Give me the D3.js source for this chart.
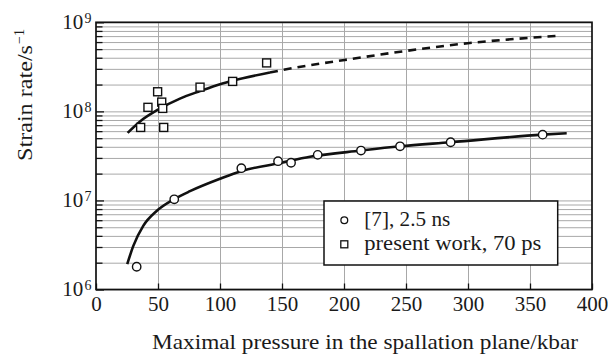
<!DOCTYPE html>
<html>
<head>
<meta charset="utf-8">
<script src="https://cdn.jsdelivr.net/npm/d3@7/dist/d3.min.js"></script>
<style>
  html, body { margin: 0; padding: 0; background: #fff; }
  svg { display: block; }
  text { font-family: "Liberation Serif", "Times New Roman", serif; fill: #1a1a1a; }
</style>
</head>
<body>
<svg id="chart" width="608" height="354"></svg>
<script>
// ---- data ----
const xTicks = [0, 50, 100, 150, 200, 250, 300, 350, 400];
const yDecades = [1e6, 1e7, 1e8, 1e9];
const yExponents = ["6", "7", "8", "9"];

// [7], 2.5 ns  (circles)
const refPressure = [32.8, 63.1, 117.2, 146.8, 157.3, 178.8, 213.7, 245.2, 286.0, 360.2];
const refRate     = [1.8e6, 1.03e7, 2.3e7, 2.76e7, 2.65e7, 3.25e7, 3.63e7, 4.05e7, 4.5e7, 5.48e7];

// present work, 70 ps (squares)
const presentPressure = [36.0, 41.9, 49.7, 53.0, 53.8, 54.6, 83.9, 110.2, 137.6];
const presentRate     = [6.6e7, 1.11e8, 1.66e8, 1.27e8, 1.08e8, 6.6e7, 1.87e8, 2.17e8, 3.5e8];

// fitted curve through [7] data (solid)
const refCurveP    = [25.2, 30.1, 38.1, 48.9, 62.9, 75.8, 100, 117.5, 148.4, 172.6, 213.7, 245, 286, 360, 379.6];
const refCurveRate = [1.93e6, 3.09e6, 5.18e6, 7.6e6, 1.03e7, 1.27e7, 1.75e7, 2.14e7, 2.63e7, 3.09e7, 3.63e7, 4.05e7, 4.5e7, 5.48e7, 5.68e7];

// fitted curve through present data (solid part)
const presCurveP    = [25.5, 36, 50, 67.7, 83.9, 100, 110.2, 140.3];
const presCurveRate = [5.73e7, 7.8e7, 1.045e8, 1.39e8, 1.69e8, 2.02e8, 2.21e8, 2.73e8];

// extrapolation (dashed part)
const extCurveP    = [140.3, 150.6, 200.6, 250.6, 299.8, 350, 374.2];
const extCurveRate = [2.73e8, 2.92e8, 3.78e8, 4.78e8, 5.82e8, 6.7e8, 7.08e8];

const legendLabels = ["[7], 2.5 ns", "present work, 70 ps"];
const xTitle = "Maximal pressure in the spallation plane/kbar";
const yTitleMain = "Strain rate/s";
const yTitleSup = "\u22121";

// ---- layout ----
const svg = d3.select("#chart");
const L = 96, R = 592, T = 22.3, B = 289.5;
const x = d3.scaleLinear().domain([0, 400]).range([L, R]);
const y = d3.scaleLog().domain([1e6, 1e9]).range([B, T]);

const gridColor = "#a8a8a8";

// minor/major tick values for log axis
const minorVals = [];
for (let e = 6; e < 9; e++) for (let m = 2; m <= 9; m++) minorVals.push(m * Math.pow(10, e));

// horizontal grid lines (via axis)
const hGrid = svg.append("g").attr("transform", `translate(${L},0)`)
  .call(d3.axisRight(y).tickValues(minorVals.concat(yDecades)).tickSize(R - L).tickFormat(""));
hGrid.select(".domain").remove();
hGrid.selectAll("line").attr("stroke", gridColor).attr("stroke-width", 1);

// vertical grid lines
const vGrid = svg.append("g").attr("transform", `translate(0,${B})`)
  .call(d3.axisTop(x).tickValues(xTicks.slice(1, -1)).tickSize(B - T).tickFormat(""));
vGrid.select(".domain").remove();
vGrid.selectAll("line").attr("stroke", gridColor).attr("stroke-width", 1);

// left ticks (black, inside)
const yMinorAx = svg.append("g").attr("transform", `translate(${L},0)`)
  .call(d3.axisRight(y).tickValues(minorVals).tickSize(6.5).tickFormat(""));
yMinorAx.select(".domain").remove();
yMinorAx.selectAll("line").attr("stroke", "#111").attr("stroke-width", 1.3);
const yMajorAx = svg.append("g").attr("transform", `translate(${L},0)`)
  .call(d3.axisRight(y).tickValues(yDecades).tickSize(8).tickFormat(""));
yMajorAx.select(".domain").remove();
yMajorAx.selectAll("line").attr("stroke", "#111").attr("stroke-width", 1.3);

// bottom ticks + labels
const xAx = svg.append("g").attr("transform", `translate(0,${B})`)
  .call(d3.axisBottom(x).tickValues(xTicks).tickSizeInner(-6).tickSizeOuter(0).tickPadding(6.5));
xAx.select(".domain").remove();
xAx.selectAll("line").attr("stroke", "#111").attr("stroke-width", 1.3);
xAx.selectAll("text").attr("font-size", 21).attr("font-family", "Liberation Serif, serif").attr("fill", "#1a1a1a");

// y tick labels 10^n
const yLab = svg.append("g");
yDecades.forEach((v, i) => {
  yLab.append("text").attr("x", 83.3).attr("y", y(v) + 6.5)
    .attr("text-anchor", "end").attr("font-size", 21).text("10");
  yLab.append("text").attr("x", 84.5).attr("y", y(v) + 0.5)
    .attr("text-anchor", "start").attr("font-size", 14).text(yExponents[i]);
});

// frame
svg.append("rect").attr("x", L).attr("y", T).attr("width", R - L).attr("height", B - T)
  .attr("fill", "none").attr("stroke", "#111").attr("stroke-width", 1.7);

// curves
const line = d3.line().x(d => x(d[0])).y(d => y(d[1])).curve(d3.curveMonotoneX);
const zip = (a, b) => a.map((v, i) => [v, b[i]]);
const curveStyle = sel => sel.attr("fill", "none").attr("stroke", "#111").attr("stroke-width", 2.6);
svg.append("path").datum(zip(refCurveP, refCurveRate)).attr("d", line).call(curveStyle);
svg.append("path").datum(zip(presCurveP, presCurveRate)).attr("d", line).call(curveStyle);
svg.append("path").datum(zip(extCurveP, extCurveRate)).attr("d", line).call(curveStyle)
  .attr("stroke-dasharray", "8,6");

// markers
svg.append("g").selectAll("circle").data(zip(refPressure, refRate)).join("circle")
  .attr("cx", d => x(d[0])).attr("cy", d => y(d[1])).attr("r", 4.2)
  .attr("fill", "#fff").attr("stroke", "#111").attr("stroke-width", 1.4);
const sq = 8;
svg.append("g").selectAll("rect").data(zip(presentPressure, presentRate)).join("rect")
  .attr("x", d => x(d[0]) - sq / 2).attr("y", d => y(d[1]) - sq / 2)
  .attr("width", sq).attr("height", sq)
  .attr("fill", "#fff").attr("stroke", "#111").attr("stroke-width", 1.4);

// legend
const lg = svg.append("g");
lg.append("rect").attr("x", 324).attr("y", 201).attr("width", 233.7).attr("height", 64)
  .attr("fill", "#fff").attr("stroke", "#111").attr("stroke-width", 1.5);
lg.append("circle").attr("cx", 344.3).attr("cy", 220.3).attr("r", 3.4)
  .attr("fill", "#fff").attr("stroke", "#111").attr("stroke-width", 1.3);
lg.append("rect").attr("x", 344.3 - 3.5).attr("y", 244.3 - 3.5).attr("width", 7).attr("height", 7)
  .attr("fill", "#fff").attr("stroke", "#111").attr("stroke-width", 1.3);
lg.append("text").attr("x", 364.3).attr("y", 225.5).attr("font-size", 21)
  .attr("textLength", 86).attr("lengthAdjust", "spacingAndGlyphs").text(legendLabels[0]);
lg.append("text").attr("x", 364.3).attr("y", 250.3).attr("font-size", 21)
  .attr("textLength", 177).attr("lengthAdjust", "spacingAndGlyphs").text(legendLabels[1]);

// x title
svg.append("text").attr("x", 152).attr("y", 349).attr("font-size", 21)
  .attr("textLength", 426).attr("lengthAdjust", "spacingAndGlyphs").text(xTitle);

// y title (rotated)
const yt = svg.append("g").attr("transform", "translate(31.5,161) rotate(-90)");
yt.append("text").attr("x", 0).attr("y", 0).attr("font-size", 21)
  .attr("textLength", 116).attr("lengthAdjust", "spacingAndGlyphs").text(yTitleMain);
yt.append("text").attr("x", 117).attr("y", -7.5).attr("font-size", 14).text(yTitleSup);
</script>
</body>
</html>
